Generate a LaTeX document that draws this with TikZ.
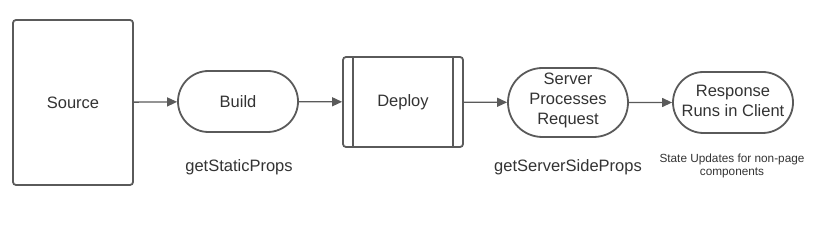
\documentclass[tikz,border=0pt]{standalone}
\usepackage{fontspec}
\setmainfont{Liberation Sans}
\usetikzlibrary{arrows.meta,shapes.misc}
\definecolor{ln}{HTML}{5A5A5A}
\definecolor{tx}{HTML}{333333}
\begin{document}
\begin{tikzpicture}[x=1pt,y=-1pt,
  base/.style={draw=ln,line width=1.8pt,text=tx,font=\fontsize{16.5}{19}\selectfont,align=center,inner sep=0pt},
  rbox/.style={base,rectangle,rounded corners=3pt},
  pill/.style={base,rounded rectangle},
  conn/.style={draw=ln,line width=1.3pt,-{Triangle[length=10pt,width=9pt]}},
  lbl/.style={text=tx,font=\fontsize{16.5}{19}\selectfont,align=center,inner sep=0pt},
  slbl/.style={text=tx,font=\fontsize{11.8}{13.5}\selectfont,align=center,inner sep=0pt}]
\useasboundingbox (0,0) rectangle (827,240);
\node[rbox,minimum width=120pt,minimum height=165pt] (src) at (73,102.5) {Source};
\node[pill,minimum width=120pt,minimum height=61pt] (build) at (238,101.5) {Build};
\node[rbox,minimum width=120pt,minimum height=90pt] (dep) at (403,102) {Deploy};
\draw[ln,line width=1.8pt] ([xshift=11pt]dep.north west) -- ([xshift=11pt]dep.south west);
\draw[ln,line width=1.8pt] ([xshift=-11pt]dep.north east) -- ([xshift=-11pt]dep.south east);
\node[pill,minimum width=120pt,minimum height=69pt] (srv) at (568,102.5) {};
\node[lbl] (srvt) at (568,100) {Server\\[1pt]Processes\\[1pt]Request};
\node[pill,minimum width=120pt,minimum height=61pt] (resp) at (733,102.5) {};
\node[lbl] (respt) at (733,101) {Response\\[1pt]Runs in Client};
\draw[conn] (src) -- (build);
\draw[conn] (build) -- (dep);
\draw[conn] (dep) -- (srv);
\draw[conn] (srv) -- (resp);
\node[lbl] (l1) at (239,167) {getStaticProps};
\node[lbl] (l2) at (568,167) {getServerSideProps};
\node[slbl] (l3) at (732,166) {State Updates for non-page\\components};
\end{tikzpicture}
\end{document}
